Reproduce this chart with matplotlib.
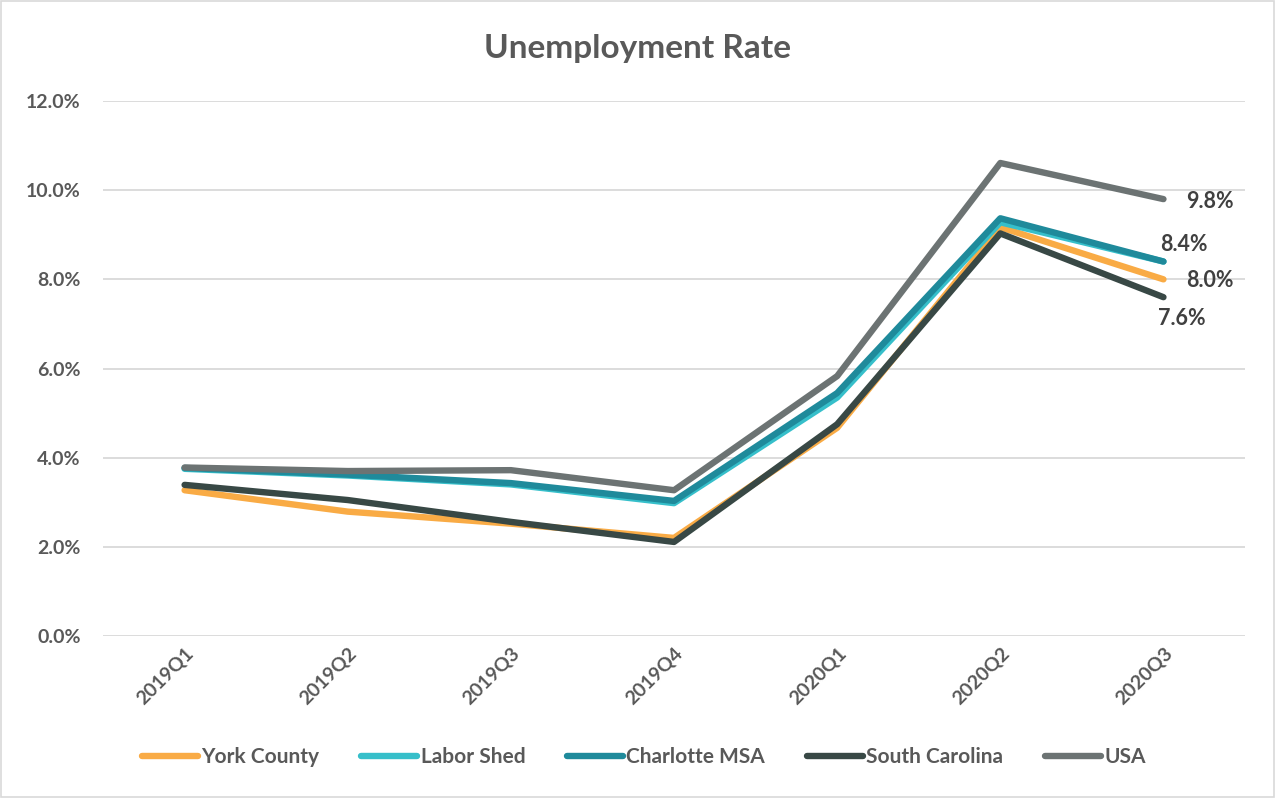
import matplotlib
matplotlib.use("Agg")
import matplotlib.pyplot as plt
from matplotlib.patches import Rectangle
from matplotlib.ticker import FuncFormatter, MultipleLocator

quarters = ["2019Q1", "2019Q2", "2019Q3", "2019Q4", "2020Q1", "2020Q2", "2020Q3"]
york_county = [3.27, 2.79, 2.52, 2.20, 4.67, 9.17, 8.0]
labor_shed = [3.75, 3.60, 3.40, 2.98, 5.35, 9.28, 8.4]
charlotte_msa = [3.77, 3.62, 3.43, 3.03, 5.45, 9.37, 8.4]
south_carolina = [3.39, 3.05, 2.56, 2.11, 4.75, 9.03, 7.6]
usa = [3.78, 3.70, 3.72, 3.27, 5.83, 10.61, 9.8]

names = ["York County", "Labor Shed", "Charlotte MSA", "South Carolina", "USA"]
colors = ["#F9AB45", "#36BFCA", "#1F8A9B", "#384845", "#6C7373"]
series = [york_county, labor_shed, charlotte_msa, south_carolina, usa]

text_color = "#595959"
plt.rcParams["font.family"] = ["Lato", "DejaVu Sans"]

fig = plt.figure(figsize=(12.75, 7.98), dpi=100)
ax = fig.add_axes([0.0808, 0.203, 0.8957, 0.6704])

x = list(range(len(quarters)))
for name, col, vals in zip(names, colors, series):
    ax.plot(x, vals, color=col, lw=4.6, solid_capstyle="round",
            solid_joinstyle="round", label=name)

ax.set_xlim(-0.5, len(quarters) - 0.5)
ax.set_ylim(0, 12)
ax.yaxis.set_major_locator(MultipleLocator(2))
ax.yaxis.set_major_formatter(FuncFormatter(lambda v, p: f"{v:.1f}%"))
ax.grid(axis="y", color="#D9D9D9", lw=1.3)
ax.set_axisbelow(True)
for s in ax.spines.values():
    s.set_visible(False)
ax.tick_params(axis="both", length=0, colors=text_color)
ax.tick_params(axis="y", pad=16)
ax.tick_params(axis="x", pad=6)
ax.set_xticks(x)
ax.set_xticklabels(quarters, rotation=45, ha="right", rotation_mode="anchor",
                   fontsize=14, fontweight="bold", color=text_color)
for lbl in ax.get_yticklabels():
    lbl.set_fontsize(14)
    lbl.set_fontweight("bold")
    lbl.set_color(text_color)

# End-of-series value labels
last = len(quarters) - 1
label_style = dict(fontsize=15.5, fontweight="bold", color="#404040",
                   textcoords="offset points", va="center")
ax.annotate(f"{usa[-1]:.1f}%", (last, usa[-1]), xytext=(16, -2),
            ha="left", **label_style)
ax.annotate(f"{charlotte_msa[-1]:.1f}%", (last, charlotte_msa[-1]), xytext=(15, 12),
            ha="center", **label_style)
ax.annotate(f"{york_county[-1]:.1f}%", (last, york_county[-1]), xytext=(16, -1),
            ha="left", **label_style)
ax.annotate(f"{south_carolina[-1]:.1f}%", (last, south_carolina[-1]), xytext=(13, -15),
            ha="center", **label_style)

fig.text(0.5, 0.939, "Unemployment Rate", ha="center", va="center",
         fontsize=24, fontweight="bold", color=text_color)

leg = fig.legend(loc="center", bbox_to_anchor=(0.505, 0.051), ncol=5, frameon=False,
                 handlelength=2.7, columnspacing=2.0, handletextpad=0.15,
                 prop={"size": 15, "weight": "bold"})
for t in leg.get_texts():
    t.set_color(text_color)

fig.patches.append(Rectangle((0.0008, 0.0012), 0.9984, 0.9976, transform=fig.transFigure,
                             fill=False, edgecolor="#D9D9D9", lw=1.2))

fig.savefig("out.png", dpi=100, facecolor="white")
